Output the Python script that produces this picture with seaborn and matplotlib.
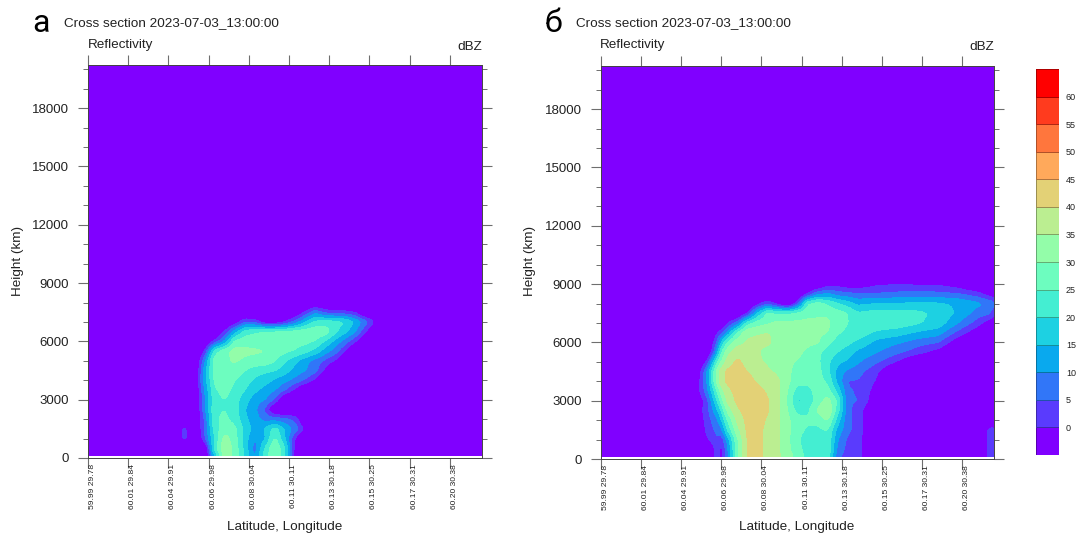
import numpy as np
import matplotlib
matplotlib.use("Agg")
import matplotlib.pyplot as plt
import seaborn as sns
from matplotlib.colors import ListedColormap
from matplotlib.ticker import MultipleLocator
from matplotlib.transforms import ScaledTranslation

TITLE = "Cross section 2023-07-03_13:00:00"
LAT_LON = ["59.99 29.78", "60.01 29.84", "60.04 29.91", "60.06 29.98", "60.08 30.04",
           "60.11 30.11", "60.13 30.18", "60.15 30.25", "60.17 30.31", "60.20 30.38"]
DBZ_LEVELS = [0, 5, 10, 15, 20, 25, 30, 35, 40, 45, 50, 55, 60]
N = -10  # no echo

# ------------------------------------------------------------------
# panel a: dBZ per height (rows), x in units of tick spacing (columns)
# ------------------------------------------------------------------
a_x = [2.4, 2.65, 2.9, 3.15, 3.4, 3.65, 3.9, 4.15, 4.4, 4.65,
       4.9, 5.15, 5.4, 5.65, 5.9, 6.15, 6.4, 6.65, 6.9, 7.15]
a_h = [150, 500, 1000, 1500, 2000, 2500, 3000, 3500, 4000, 4500,
       5000, 5500, 6000, 6500, 7000, 7500, 8000]
a_dbz = [
    [N, N, N, 15, 33, 28, 18, 9, 22, 30, 20, -5, N, N, N, N, N, N, N, N],
    [N, N, N, 22, 34, 28, 18, 7, 20, 30, 20, -3, N, N, N, N, N, N, N, N],
    [2, N, 3, 20, 32, 27, 17, 10, 14, 26, 15, -1, N, N, N, N, N, N, N, N],
    [2, N, 5, 22, 28, 26, 18, 13, 15, 22, 14, 8, -2, N, N, N, N, N, N, N],
    [N, N, 5, 24, 26, 23, 16, 12, 8, 7, 6, 3, N, N, N, N, N, N, N, N],
    [N, N, 8, 24, 25, 22, 15, 11, 4, N, N, N, N, N, N, N, N, N, N, N],
    [N, N, 8, 23, 25, 22, 17, 12, 10, 4, N, N, N, N, N, N, N, N, N, N],
    [N, N, 10, 24, 27, 23, 20, 16, 13, 10, 5, -2, N, N, N, N, N, N, N, N],
    [N, -8, 12, 26, 29, 25, 22, 19, 17, 14, 11, 8, 4, -2, N, N, N, N, N, N],
    [N, N, 12, 27, 29, 28, 25, 22, 21, 20, 17, 13, 10, 7, -2, N, N, N, N, N],
    [N, N, 8, 28, 29, 30.5, 29, 28.5, 28, 25, 20.5, 16, 11.5, 7.5, 3.5, -1, N, N, N, N],
    [N, N, -0.5, 22, 28, 32, 31, 30.5, 30.2, 28, 26, 24.5, 21.5, 18, 12, 7, -1, N, N, N],
    [N, N, N, 1, 10, 26, 28, 28, 27, 27, 27, 27, 26.5, 24.5, 19, 13, 7, 0, N, N],
    [N, N, N, N, 0, 12, 22, 24, 25.5, 26, 26, 27, 28, 28.5, 28, 21, 16, 10, 0, N],
    [N, N, N, N, N, -5, 4, 3, -5, -6, -1, 6, 14, 21, 22, 22, 20, 14, 7, -1],
    [N, N, N, N, N, N, N, N, N, N, N, -8, 0, 8, 3, 1, 1, -1, N, N],
    [N, N, N, N, N, N, N, N, N, N, N, N, N, N, N, N, N, N, N, N],
]

# ------------------------------------------------------------------
# panel b: one list per x position, bottom to top
# ------------------------------------------------------------------
b_h = [150, 500, 1000, 1500, 2000, 2500, 3000, 3500, 4000, 4500,
       5000, 5500, 6000, 6500, 7000, 7500, 8000, 8500, 9000, 9500]
b_columns = {
    2.4:  [N, N, N, N, -5, -4, -6, -3, -4, -6, N, N, N, N, N, N, N, N, N, N],
    2.65: [N, N, -1, 2, 2, 3, 3, 8, 10, 10, 1, N, N, N, N, N, N, N, N, N],
    2.9:  [3, 3, 5, 6, 9, 14, 20, 25, 32, 32, 24, 12, 5, -1, N, N, N, N, N, N],
    3.0:  [-3, -3, 1, 8, 14, 20, 27, 32, 38, 38, 30, 24, 15, 3, N, N, N, N, N, N],
    3.15: [8, 8, 11, 20, 25, 31, 36, 38, 41, 41, 37, 33, 25, 10, -1, N, N, N, N, N],
    3.4:  [28, 28, 29, 33, 36, 39, 41, 42, 43, 42, 41, 38, 33, 25, 6, N, N, N, N, N],
    3.65: [40.2, 40.3, 40.5, 41, 41.5, 42, 43, 44, 42, 39.9, 38, 36, 35.5, 34, 22, -1, N, N, N, N],
    3.9:  [42, 42, 42, 42, 43, 43, 44, 42, 39, 38, 36, 35.5, 36, 34.5, 27, 15, -3, N, N, N],
    4.15: [38, 38, 38, 38, 39, 40.5, 40.5, 39, 37, 36, 34, 33, 36, 35, 29, 26, 3, N, N, N],
    4.4:  [36, 36, 36, 36, 36, 36, 36, 36, 36, 34, 31, 32, 33, 34, 31, 24, -3, N, N, N],
    4.65: [32, 31, 31, 31, 31, 30, 29, 30, 31, 31, 31, 31, 31.5, 32, 31, 24, N, N, N, N],
    4.9:  [28, 27, 26, 27, 27, 23, 19, 22, 27, 28, 29.5, 31, 31.5, 31, 31, 26, 2, N, N, N],
    5.15: [23, 22, 21, 24, 26, 23.5, 21, 23, 26, 28, 28, 29, 31, 31, 31, 28.5, 24, -1, N, N],
    5.4:  [23, 23, 23, 24, 26, 30.5, 27, 27, 27, 27, 26, 26, 30.5, 31, 31, 29, 27, 8, N, N],
    5.65: [23, 24, 24, 25, 30.5, 35, 32, 27, 24, 21, 21, 23, 26, 30, 31, 29, 24, 10, -3, N],
    5.9:  [6, 8, 10, 13, 17, 22, 24, 18, 13, 13, 16, 20, 22.5, 25.5, 27, 27, 20, 7, -3, N],
    6.15: [3, 3, 4, 6, 6, 6, 5.5, 5.5, 4.5, 8.5, 14, 17.5, 21, 24, 25, 25, 17, 6, -5, N],
    6.4:  [2, 2, 2, 3, 3, 3, 5, 4.5, 4.5, 7, 10.5, 13.5, 18.5, 23, 24, 20.5, 13.5, 5, -5, N],
    6.9:  [N, N, N, N, N, N, -5, -3, -1, 0.2, 5.2, 10, 13, 18.5, 24, 22, 15, 5, -1, N],
    7.4:  [N, N, N, N, N, N, N, N, N, N, -1, 6, 10.5, 17, 23, 21.5, 15, 6, -0.5, N],
    7.9:  [N, N, N, N, N, N, N, N, N, N, N, 2, 7, 14, 20.5, 21, 16, 6.5, -1, N],
    8.4:  [N, N, N, N, N, N, N, N, N, N, N, -3, 5, 12, 18, 19, 15.5, 6, -1, N],
    8.9:  [N, N, N, N, N, N, N, N, N, N, N, N, -5, 3, 10, 14, 14, 5, -4, N],
    9.4:  [N, N, N, N, N, N, N, N, N, N, N, N, N, -5, 2, 7.5, 11, 1.6, N, N],
    9.65: [0.5, 1, 1, 0.5, N, N, N, N, N, N, N, N, N, N, -3, 6, 9, -3, N, N],
    9.78: [3, 3, 3, 3, N, N, N, N, N, N, N, N, N, N, -5, 2, 7, -5, N, N],
}

sns.set_theme(style="ticks")
plt.rcParams["font.family"] = ["Liberation Sans", "DejaVu Sans"]

W, H = 1078, 536
rainbow = sns.color_palette("rainbow", as_cmap=True)
colors = [rainbow(v) for v in np.linspace(0, 1, len(DBZ_LEVELS) + 1)]
GREY = "#6e6e6e"


def px_rect(left, top, right, bottom):
    return [left / W, 1 - bottom / H, (right - left) / W, (bottom - top) / H]


def soften(zz, size=5):
    # the source plot is a smooth field, round the corners of the coarse read-off
    box = np.ones(size) / size
    for axis in (0, 1):
        pad = [(0, 0), (0, 0)]
        pad[axis] = (size, size)
        padded = np.pad(zz, pad, mode="edge")
        padded = np.apply_along_axis(lambda s: np.convolve(s, box, mode="same"), axis, padded)
        zz = padded[size:-size, :] if axis == 0 else padded[:, size:-size]
    return zz


def draw_panel(fig, rect, x, h, dbz):
    ax = fig.add_axes(rect)
    # "no echo" out to the frame, the bottom strip stays blank
    xx = np.r_[0, x[0] - 0.25, x, x[-1] + 0.25, 10.2]
    hh = np.r_[h, h[-1] + 500, 20300]
    zz = np.pad(np.array(dbz, dtype=float), ((0, 2), (2, 2)), constant_values=N)
    fine_x = np.arange(0, 10.2, 0.025)
    fine_h = np.arange(150, 20300, 50.0)
    zz = np.array([np.interp(fine_x, xx, row) for row in zz])
    zz = np.array([np.interp(fine_h, hh, col) for col in zz.T]).T
    zz = soften(zz)
    cs = ax.contourf(fine_x, fine_h, zz, levels=DBZ_LEVELS, colors=colors, extend="both")
    cs.set_edgecolor("face")
    cs.set_linewidth(0.4)

    ax.set_xlim(0, 9.8)
    ax.set_ylim(0, 20220)
    ax.set_xticks(range(len(LAT_LON)))
    ax.set_xticklabels(LAT_LON, rotation=90, ha="center", fontsize=6.1, color="#222222")
    ax.yaxis.set_minor_locator(MultipleLocator(1000))
    ax.set_yticks(range(0, 18001, 3000))
    ax.tick_params(axis="y", which="major", length=7, width=0.8, color=GREY, labelsize=9.5,
                   right=True, labelcolor="#222222", pad=7)
    ax.tick_params(axis="y", which="minor", length=3.5, width=0.7, color=GREY, right=True)
    ax.tick_params(axis="x", which="major", length=7, width=0.8, color=GREY, top=True, pad=-2.5)
    # tick_params resets the label transform, so nudge the labels after it
    shift = ScaledTranslation(4.5 / 100, 0, fig.dpi_scale_trans)
    for t in ax.get_xticklabels():
        t.set_transform(t.get_transform() + shift)
    for s in ax.spines.values():
        s.set_color("#444444")
        s.set_linewidth(0.7)
    return ax


def label(fig, px, py, s, **kw):
    kw.setdefault("fontsize", 9.7)
    kw.setdefault("va", "center")
    kw.setdefault("color", "#222222")
    fig.text(px / W, 1 - py / H, s, **kw)


fig = plt.figure(figsize=(W / 100, H / 100), dpi=100)

draw_panel(fig, px_rect(88, 65, 482, 458), a_x, a_h, a_dbz)
b_x = list(b_columns)
b_dbz = np.array([b_columns[k] for k in b_x]).T
draw_panel(fig, px_rect(601, 66, 994, 459), b_x, b_h, b_dbz)

for x0, letter_x, letter in [(0, 32, "а"), (512, 544, "б")]:
    label(fig, letter_x, 23, letter, fontsize=23, family=["Roboto", "DejaVu Sans"], color="black")
    label(fig, x0 + 64, 23, TITLE)
    label(fig, x0 + 88, 45, "Reflectivity")
    label(fig, x0 + 482, 47, "dBZ", ha="right")
    label(fig, x0 + 18, 261, "Height (km)", rotation=90, ha="center")
    label(fig, x0 + 285, 527, "Latitude, Longitude", ha="center")

# colour key
cax = fig.add_axes(px_rect(1036, 69, 1059, 455))
sns.heatmap(np.arange(len(colors)).reshape(-1, 1), ax=cax, cmap=ListedColormap(colors), cbar=False,
            linewidths=0.5, linecolor="#00000050", xticklabels=False)
cax.invert_yaxis()
cax.set_yticks(range(1, len(colors)))
cax.set_yticklabels(DBZ_LEVELS, rotation=0, fontsize=6.5, color="#222222")
cax.yaxis.tick_right()
cax.tick_params(axis="y", length=0, pad=5)
cax.set_ylabel("")

fig.savefig("out.png", dpi=100)
